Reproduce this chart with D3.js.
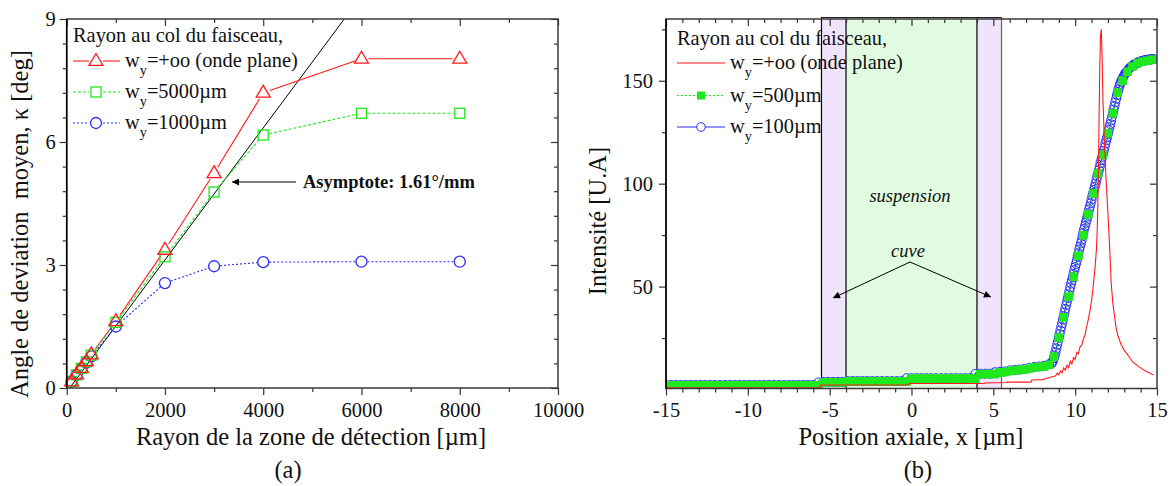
<!DOCTYPE html>
<html><head><meta charset="utf-8">
<script src="https://cdn.jsdelivr.net/npm/d3@7"></script>
<style>body{margin:0;background:#fff}svg{font-family:"Liberation Serif","Times New Roman",serif}</style>
</head><body><svg id="c" width="1171" height="486"></svg>
<script>
// ---------- Panel (a) data ----------
const aX     = [100, 200, 300, 400, 500, 1000, 2000, 3000, 4000, 6000, 8000];
const aRed   = [0.16, 0.33, 0.49, 0.65, 0.82, 1.63, 3.37, 5.24, 7.20, 8.03, 8.03];
const aGreen = [0.16, 0.32, 0.48, 0.64, 0.80, 1.60, 3.20, 4.78, 6.17, 6.70, 6.70];
const aBlue  = [0.16, 0.32, 0.47, 0.62, 0.77, 1.50, 2.56, 2.97, 3.07, 3.08, 3.08];
const asymSlope = 1.61;      // deg / mm
const asymX = [60, 6000];    // µm, ends of the asymptote line
const aXMajor = [0, 2000, 4000, 6000, 8000, 10000];
const aXMinor = [1000, 3000, 5000, 7000, 9000];
const aYMajor = [0, 3, 6, 9];
const aYMinor = [0.6, 1.2, 1.8, 2.4, 3.6, 4.2, 4.8, 5.4, 6.6, 7.2, 7.8, 8.4];

// ---------- Panel (b) data ----------
const bands = [[-5.5, -4, "cuve"], [-4, 4, "susp"], [4, 5.5, "cuve"]];
const redX = [-15, -5.6, -5.55, -0.2, -0.15, 4.45, 4.5, 5.8, 5.85, 7.3, 7.35, 8.0, 8.3, 8.6, 8.8, 8.9, 9.0, 9.1, 9.2, 9.3,
  9.4, 9.5, 9.6, 9.7, 9.8, 9.9, 10.0, 10.1, 10.2, 10.3, 10.4, 10.5, 10.6, 10.7, 10.8, 10.9, 11.0, 11.1, 11.2, 11.3,
  11.35, 11.4, 11.45, 11.5, 11.55, 11.6, 11.65, 11.7, 11.8, 11.9, 12.0, 12.1, 12.2, 12.3, 12.4, 12.5, 12.6, 12.8, 13.0, 13.2,
  13.5, 13.9, 14.3, 14.8];
const redY = [0.9, 0.9, 2.2, 2.2, 2.9, 2.9, 3.2, 3.4, 3.6, 3.6, 4.6, 4.8, 5.5, 6.2, 6.6, 8.0, 7.2, 9.0, 8.2, 10.5,
  9.4, 11.8, 10.6, 13.8, 12.4, 15.5, 14.6, 18.0, 17.5, 20.8, 21.5, 24.5, 26.5, 30.5, 34, 38, 43, 50, 58, 68,
  78, 95, 125, 155, 172, 175, 160, 140, 118, 100, 86, 70, 52, 42, 36, 30, 26.5, 22, 19, 17,
  13.5, 11, 9, 7];
// green squares, sampled every 0.3 µm from -15
const greenStart = -15, greenStep = 0.3;
const greenY = [2.0, 2.0, 2.0, 2.0, 2.0, 2.0, 2.0, 2.0, 2.0, 2.0, 2.0, 2.0, 2.0, 2.0, 2.0, 2.0,
  2.0, 2.0, 2.0, 2.0, 2.0, 2.0, 2.0, 2.0, 2.0, 2.0, 2.0, 2.0, 2.0, 2.0, 2.0, 2.0,
  3.5, 3.5, 3.5, 3.5, 3.5,
  3.9, 3.9, 3.9, 3.9, 3.9, 3.9, 3.9, 3.9, 3.9, 3.9, 3.9, 3.9, 3.9,
  5.3, 5.3, 5.3, 5.3, 5.3, 5.3, 5.3, 5.3, 5.3, 5.3, 5.3, 5.3, 5.3, 5.3,
  7.5, 7.5, 7.5, 7.5,
  8.3, 8.5, 9.0, 9.3, 9.5, 9.7, 10.2, 10.8, 11.0, 11.2, 12.0, 16.0, 25.2, 35.1, 45.1, 54.8,
  65.0, 75.0, 85.1, 95.3, 105.0, 114.0, 124.5, 134.2, 144.2, 150.0, 154.4, 156.9, 158.5, 159.3, 159.8, 160.3];
// blue circles: flat part every 0.3 µm from -15 to 8.4, rising part every 0.05 µm from 8.55
const blueFlatY = [2.2, 2.2, 2.2, 2.2, 2.2, 2.2, 2.2, 2.2, 2.2, 2.2, 2.2, 2.2, 2.2, 2.2, 2.2, 2.2,
  2.2, 2.2, 2.2, 2.2, 2.2, 2.2, 2.2, 2.2, 2.2, 2.2, 2.2, 2.2, 2.2, 2.2, 2.2, 3.4,
  3.7, 3.7, 3.7, 3.7, 3.7,
  4.1, 4.1, 4.1, 4.1, 4.1, 4.1, 4.1, 4.1, 4.1, 4.1, 4.1, 4.1, 5.5,
  5.5, 5.5, 5.5, 5.5, 5.5, 5.5, 5.5, 5.5, 5.5, 5.5, 5.5, 5.5, 5.5, 7.6,
  7.7, 7.7, 7.7, 8.4,
  8.6, 8.8, 9.3, 9.5, 9.7, 10.0, 10.6, 11.0, 11.2, 11.5, 12.3];
const blueRiseStart = 8.55, blueRiseStep = 0.05;
const blueRiseY = [
  12.5, 13.2, 14, 15.2, 16.5, 18.2, 20, 21.7, 23.5, 25.2,
  27, 28.7, 30.5, 32.2, 34, 35.7, 37.5, 39.2, 41, 42.7,
  44.5, 46.2, 48, 49.7, 51.5, 53, 54.5, 56.2, 58, 59.5,
  61, 62.7, 64.5, 66.2, 68, 69.5, 71, 72.7, 74.5, 76.2,
  78, 79.5, 81, 82.5, 84, 85.7, 87.5, 89, 90.5, 92.2,
  94, 95.5, 97, 98.5, 100, 101.7, 103.5, 105, 106.5, 108.2,
  110, 111.5, 113, 114.5, 116, 117.7, 119.5, 121, 122.5, 124.2,
  126, 127.5, 129, 130.7, 132.5, 134.2, 136, 137.7, 139.5, 141.2,
  143, 144.5, 146, 147.3, 148.5, 149.5, 150.5, 151.3, 152, 152.8,
  153.5, 154, 154.5, 155, 155.5, 155.9, 156.3, 156.6, 157, 157.3,
  157.6, 157.9, 158.1, 158.3, 158.5, 158.7, 158.9, 159.05, 159.2, 159.35,
  159.5, 159.6, 159.7, 159.8, 159.9, 160, 160.1, 160.15, 160.2, 160.25,
  160.3, 160.35, 160.4, 160.45, 160.5, 160.5];
const bXMajor = [-15, -10, -5, 0, 5, 10, 15];
const bXMinor = [-14, -13, -12, -11, -9, -8, -7, -6, -4, -3, -2, -1, 1, 2, 3, 4, 6, 7, 8, 9, 11, 12, 13, 14];
const bYMajor = [50, 100, 150];
const bYMinor = [25, 75, 125, 175];

// ---------- colours ----------
const RED = "#ff1a1a", GREEN = "#1fe81f", BLUE = "#2b2bff";

const svg = d3.select("#c");
const FONT = "Liberation Serif";
const TICKFS = 20.5, TITLEFS = 24.5, LEGFS = 20.4;

function drawAxes(g, x, y, xMaj, xMin, yMaj, yMin, yPad) {
  const [x0, x1] = x.range(), [y0, y1] = y.range();
  const fmt = d => String(d);
  const style = s => s.attr("font-family", FONT).attr("font-size", TICKFS)
    .call(s => s.selectAll(".domain").remove())
    .call(s => s.selectAll("line").attr("stroke", "#333").attr("stroke-width", 1.2))
    .call(s => s.selectAll("text").attr("fill", "#111"));
  g.append("g").attr("transform", `translate(0,${y0})`).call(d3.axisBottom(x).tickValues(xMaj).tickSize(7).tickPadding(7).tickFormat(fmt)).call(style);
  g.append("g").attr("transform", `translate(0,${y0})`).call(d3.axisBottom(x).tickValues(xMin).tickSize(4).tickFormat("")).call(style);
  g.append("g").attr("transform", `translate(0,${y1})`).call(d3.axisTop(x).tickValues(xMaj).tickSize(-7).tickFormat("")).call(style);
  g.append("g").attr("transform", `translate(0,${y1})`).call(d3.axisTop(x).tickValues(xMin).tickSize(-4).tickFormat("")).call(style);
  g.append("g").attr("transform", `translate(${x0},0)`).call(d3.axisLeft(y).tickValues(yMaj).tickSize(7).tickPadding(yPad).tickFormat(fmt)).call(style);
  g.append("g").attr("transform", `translate(${x0},0)`).call(d3.axisLeft(y).tickValues(yMin).tickSize(4).tickFormat("")).call(style);
  g.append("g").attr("transform", `translate(${x1},0)`).call(d3.axisRight(y).tickValues(yMaj).tickSize(-7).tickFormat("")).call(style);
  g.append("g").attr("transform", `translate(${x1},0)`).call(d3.axisRight(y).tickValues(yMin).tickSize(-4).tickFormat("")).call(style);
  g.append("rect").attr("x", x0).attr("y", y1).attr("width", x1 - x0).attr("height", y0 - y1)
    .attr("fill", "none").attr("stroke", "#3a3a3a").attr("stroke-width", 1.5);
  g.append("line").attr("x1", x0).attr("x2", x0).attr("y1", y1).attr("y2", y0).attr("stroke", "#000").attr("stroke-width", 1.5);
}

function gapSegments(pts, gap) {
  const segs = [];
  for (let i = 0; i < pts.length - 1; i++) {
    const [px, py] = pts[i], [qx, qy] = pts[i + 1];
    const dx = qx - px, dy = qy - py, L = Math.hypot(dx, dy);
    if (L > 2 * gap) {
      const ux = dx / L, uy = dy / L;
      segs.push([px + ux * gap, py + uy * gap, qx - ux * gap, qy - uy * gap]);
    }
  }
  return segs;
}

const triPath = "M0,-7.5L7,4.4L-7,4.4Z";
function marker(g, type, cx, cy, color, fill) {
  if (type === "tri") g.append("path").attr("d", triPath).attr("transform", `translate(${cx},${cy})`).attr("fill", fill || "#fff").attr("stroke", color).attr("stroke-width", 1.3);
  else if (type === "sq") g.append("rect").attr("x", cx - 5).attr("y", cy - 5).attr("width", 10).attr("height", 10).attr("fill", fill || "#fff").attr("stroke", color).attr("stroke-width", 1.3);
  else if (type === "circ") g.append("circle").attr("cx", cx).attr("cy", cy).attr("r", 5.5).attr("fill", fill || "#fff").attr("stroke", color).attr("stroke-width", 1.3);
}

function legendLabel(g, x, y, sub, rest, size) {
  const t = g.append("text").attr("x", x).attr("y", y).attr("font-size", size).attr("fill", "#111");
  t.append("tspan").text("w");
  t.append("tspan").attr("dy", 8).attr("font-size", size * 0.7).text(sub);
  t.append("tspan").attr("dy", -8).text(rest);
}

// ================= Panel (a) =================
const ax = d3.scaleLinear().domain([0, 10000]).range([66.7, 558]);
const ay = d3.scaleLinear().domain([0, 9]).range([388, 19]);
svg.append("defs").html(`
  <clipPath id="clipA"><rect x="66.7" y="19" width="491.3" height="369"/></clipPath>
  <clipPath id="clipB"><rect x="666" y="19" width="491" height="369.5"/></clipPath>
  <marker id="arr" viewBox="0 0 10 10" refX="10" refY="5" markerWidth="11" markerHeight="7" markerUnits="userSpaceOnUse" orient="auto">
    <path d="M0,0L10,5L0,10Z" fill="#000"/></marker>`);
const gA = svg.append("g");

// asymptote
gA.append("line").attr("clip-path", "url(#clipA)")
  .attr("x1", ax(asymX[0])).attr("y1", ay(0))
  .attr("x2", ax(asymX[1])).attr("y2", ay(asymSlope * (asymX[1] - asymX[0]) / 1000))
  .attr("stroke", "#000").attr("stroke-width", 1);

const seriesA = [
  {vals: aRed, color: RED, type: "tri", dash: null, gap: 7},
  {vals: aGreen, color: GREEN, type: "sq", dash: "3,2", gap: 6},
  {vals: aBlue, color: BLUE, type: "circ", dash: "2,2", gap: 6}
];
seriesA.forEach(s => {
  const pts = aX.map((x, i) => [ax(x), ay(s.vals[i])]);
  gapSegments(pts, s.gap).forEach(sg => gA.append("line")
    .attr("x1", sg[0]).attr("y1", sg[1]).attr("x2", sg[2]).attr("y2", sg[3])
    .attr("stroke", s.color).attr("stroke-width", 1.1).attr("stroke-dasharray", s.dash));
});
[...seriesA].reverse().forEach(s => {
  aX.forEach((x, i) => marker(gA, s.type, ax(x), ay(s.vals[i]), s.color, "none"));
});

drawAxes(gA, ax, ay, aXMajor, aXMinor, aYMajor, aYMinor, 4);

// annotation
gA.append("line").attr("x1", 296).attr("y1", 182).attr("x2", 232).attr("y2", 182)
  .attr("stroke", "#000").attr("stroke-width", 1).attr("marker-end", "url(#arr)");
gA.append("text").attr("x", 303).attr("y", 188).attr("font-size", 18.5).attr("font-weight", "bold").attr("fill", "#111")
  .text("Asymptote: 1.61°/mm");

// legend (a)
gA.append("text").attr("x", 73).attr("y", 42).attr("font-size", LEGFS).attr("fill", "#111").text("Rayon au col du faisceau,");
[[seriesA[0], 61, "=+oo (onde plane)"], [seriesA[1], 92, "=5000µm"], [seriesA[2], 123, "=1000µm"]].forEach(([s, ly, txt]) => {
  gA.append("line").attr("x1", 73).attr("x2", 89).attr("y1", ly).attr("y2", ly).attr("stroke", s.color).attr("stroke-width", 1.1).attr("stroke-dasharray", s.dash);
  gA.append("line").attr("x1", 103).attr("x2", 120).attr("y1", ly).attr("y2", ly).attr("stroke", s.color).attr("stroke-width", 1.1).attr("stroke-dasharray", s.dash);
  marker(gA, s.type, 96, ly, s.color, "none");
  legendLabel(gA, 125, ly + 6, "y", txt, LEGFS);
});

// axis titles (a)
gA.append("text").attr("transform", "translate(27.5,224) rotate(-90)").attr("text-anchor", "middle")
  .attr("font-size", TITLEFS).attr("fill", "#111").style("white-space", "pre").text("Angle de deviation  moyen, κ [deg]");
gA.append("text").attr("x", 311).attr("y", 445).attr("text-anchor", "middle").attr("font-size", TITLEFS).attr("fill", "#111")
  .text("Rayon de la zone de détection [µm]");
gA.append("text").attr("x", 288).attr("y", 478).attr("text-anchor", "middle").attr("font-size", TITLEFS).attr("fill", "#111").text("(a)");

// ================= Panel (b) =================
const bx = d3.scaleLinear().domain([-15, 15]).range([666, 1157]);
const by = d3.scaleLinear().domain([0.5, 180]).range([388.5, 19]);
const gB = svg.append("g");

bands.forEach(([a, b, kind]) => {
  gB.append("rect").attr("x", bx(a)).attr("width", bx(b) - bx(a)).attr("y", 17).attr("height", 388.5 - 17)
    .attr("fill", kind === "cuve" ? "#efe4fb" : "#e1fbe1");
});
[[-5.5, "#000"], [-4, "#000"], [4, "#000"], [5.5, "#666"]].forEach(([v, c]) => {
  gB.append("line").attr("x1", bx(v)).attr("x2", bx(v)).attr("y1", 17).attr("y2", 388.5).attr("stroke", c).attr("stroke-width", 1.2);
});
gB.append("line").attr("x1", bx(-5.5)).attr("x2", bx(5.5)).attr("y1", 17.5).attr("y2", 17.5).attr("stroke", "#222").attr("stroke-width", 1);

const dataB = gB.append("g").attr("clip-path", "url(#clipB)");
const greenPts = greenY.map((v, i) => [greenStart + greenStep * i, v]);
const bluePts = blueFlatY.map((v, i) => [greenStart + greenStep * i, v])
  .concat(blueRiseY.map((v, i) => [blueRiseStart + blueRiseStep * i, v]));
const redPts = redX.map((x, i) => [x, redY[i]]);
const lineB = d3.line().x(d => bx(d[0])).y(d => by(d[1]));

dataB.append("path").attr("d", lineB(bluePts)).attr("fill", "none").attr("stroke", BLUE).attr("stroke-width", 1.2);
dataB.selectAll("circle.b").data(bluePts).join("circle").attr("class", "b")
  .attr("cx", d => bx(d[0])).attr("cy", d => by(d[1])).attr("r", 4.5)
  .attr("fill", "none").attr("stroke", BLUE).attr("stroke-width", 1);
dataB.append("path").attr("d", lineB(greenPts)).attr("fill", "none").attr("stroke", GREEN).attr("stroke-width", 1.1).attr("stroke-dasharray", "2,2");
dataB.selectAll("rect.g").data(greenPts).join("rect").attr("class", "g")
  .attr("x", d => bx(d[0]) - 4.3).attr("y", d => by(d[1]) - 4.3).attr("width", 8.6).attr("height", 8.6)
  .attr("fill", GREEN);
dataB.append("path").attr("d", lineB(redPts)).attr("fill", "none").attr("stroke", RED).attr("stroke-width", 1.1);

drawAxes(gB, bx, by, bXMajor, bXMinor, bYMajor, bYMinor, 6);

// annotations (b)
gB.append("text").attr("x", 910).attr("y", 202).attr("text-anchor", "middle").attr("font-size", 18.5).attr("font-style", "italic").attr("fill", "#111").text("suspension");
gB.append("text").attr("x", 908).attr("y", 257).attr("text-anchor", "middle").attr("font-size", 18.5).attr("font-style", "italic").attr("fill", "#111").text("cuve");
gB.append("line").attr("x1", 910).attr("y1", 262).attr("x2", 833).attr("y2", 298).attr("stroke", "#000").attr("stroke-width", 1).attr("marker-end", "url(#arr)");
gB.append("line").attr("x1", 910).attr("y1", 262).attr("x2", 991).attr("y2", 297).attr("stroke", "#000").attr("stroke-width", 1).attr("marker-end", "url(#arr)");

// legend (b)
gB.append("text").attr("x", 677).attr("y", 45).attr("font-size", LEGFS).attr("fill", "#111").text("Rayon au col du faisceau,");
const legB = [
  {y: 63, txt: "=+oo (onde plane)", color: RED, dash: null, m: null},
  {y: 95.5, txt: "=500µm", color: GREEN, dash: "2,2", m: "sq"},
  {y: 127, txt: "=100µm", color: BLUE, dash: null, m: "circ"}
];
legB.forEach(l => {
  gB.append("line").attr("x1", 677).attr("x2", 725).attr("y1", l.y).attr("y2", l.y).attr("stroke", l.color).attr("stroke-width", 1.1).attr("stroke-dasharray", l.dash);
  if (l.m === "sq") gB.append("rect").attr("x", 697).attr("y", l.y - 4).attr("width", 8).attr("height", 8).attr("fill", GREEN);
  if (l.m === "circ") gB.append("circle").attr("cx", 701).attr("cy", l.y).attr("r", 4.3).attr("fill", "#fff").attr("stroke", BLUE).attr("stroke-width", 1);
  legendLabel(gB, 730, l.y + 6, "y", l.txt, LEGFS);
});

// axis titles (b)
gB.append("text").attr("transform", "translate(606,221) rotate(-90)").attr("text-anchor", "middle")
  .attr("font-size", TITLEFS).attr("fill", "#111").text("Intensité [U.A]");
gB.append("text").attr("x", 911).attr("y", 445).attr("text-anchor", "middle").attr("font-size", TITLEFS).attr("fill", "#111")
  .text("Position axiale, x [µm]");
gB.append("text").attr("x", 918).attr("y", 478).attr("text-anchor", "middle").attr("font-size", TITLEFS).attr("fill", "#111").text("(b)");
</script></body></html>
